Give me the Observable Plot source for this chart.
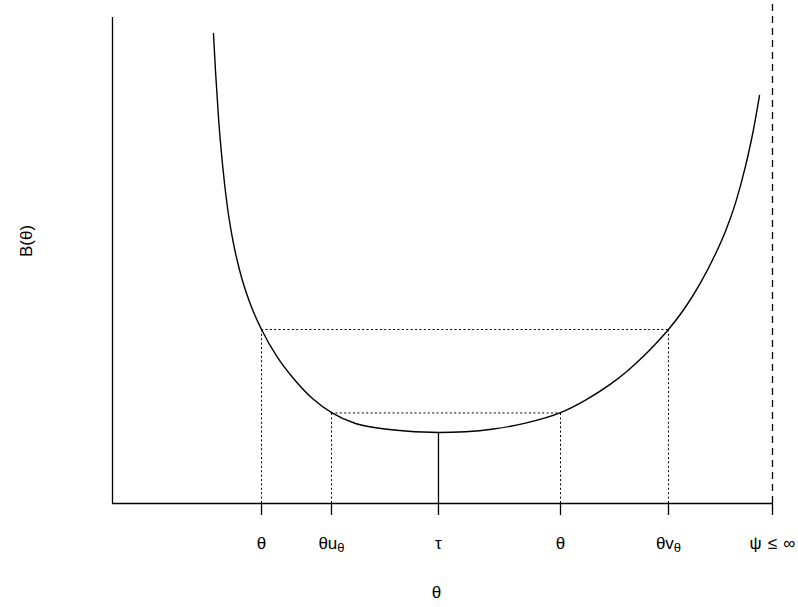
<!DOCTYPE html>
<html>
<head>
<meta charset="utf-8">
<script src="https://cdn.jsdelivr.net/npm/d3@7"></script>
<script src="https://cdn.jsdelivr.net/npm/@observablehq/plot@0.6"></script>
<style>
  html, body { margin: 0; padding: 0; background: #fff; }
  #chart svg { display: block; }
</style>
</head>
<body>
<div id="chart"></div>
<script>
// ---- data ----
const curveX = [1.530, 1.561, 1.606, 1.667, 1.742, 1.833, 1.939, 2.091, 2.258, 2.500, 2.742, 3.030, 3.333, 3.682, 4.015, 4.439, 4.939, 5.348, 5.773, 6.273, 6.788, 7.167, 7.545, 7.788, 8.045, 8.227, 8.424, 8.667, 8.909, 9.136, 9.288, 9.439, 9.591, 9.697, 9.803];
const curveY = [9.344, 8.588, 7.674, 6.740, 5.885, 5.169, 4.573, 3.956, 3.459, 2.903, 2.485, 2.087, 1.795, 1.590, 1.501, 1.441, 1.412, 1.427, 1.481, 1.602, 1.805, 2.056, 2.372, 2.620, 2.926, 3.171, 3.459, 3.877, 4.388, 4.960, 5.412, 5.972, 6.708, 7.336, 8.111];
const tickX = [2.258, 3.318, 4.939, 6.788, 8.424, 10];
const tickMain = ["θ", "θu", "τ", "θ", "θv", "ψ \u200A≤ \u200A∞"];
const tickSub = ["", "θ", "", "", "θ", ""];
const upperLevel = 3.459;
const lowerLevel = 1.80;
const minLevel = 1.412;
const xMax = 10;
const yAxisTop = 9.662;
const yMax = 10;

const curve = curveX.map((x, i) => ({x, y: curveY[i]}));
const dotted = "2,2.4";

const chart = Plot.plot({
  width: 798,
  height: 607,
  marginLeft: 112,
  marginRight: 26,
  marginTop: 0,
  marginBottom: 104,
  x: {domain: [0, xMax]},
  y: {domain: [0, yMax], axis: null},
  style: {fontFamily: "'Liberation Sans', Arial, sans-serif", background: "#fff", color: "#000"},
  marks: [
    // axes lines
    Plot.ruleX([0], {y1: 0, y2: yAxisTop, stroke: "#000", strokeWidth: 1.3}),
    Plot.ruleY([0], {x1: 0, x2: xMax, stroke: "#000", strokeWidth: 1.3}),
    // dashed bound
    Plot.ruleX([xMax], {y1: 0, y2: yMax, stroke: "#000", strokeWidth: 1.3, strokeDasharray: "7,5"}),
    // dotted guides
    Plot.ruleY([upperLevel], {x1: tickX[0], x2: tickX[4], stroke: "#000", strokeDasharray: dotted}),
    Plot.ruleY([lowerLevel], {x1: tickX[1], x2: tickX[3], stroke: "#000", strokeDasharray: dotted}),
    Plot.ruleX([tickX[0], tickX[4]], {y1: 0, y2: upperLevel, stroke: "#000", strokeDasharray: dotted}),
    Plot.ruleX([tickX[1], tickX[3]], {y1: 0, y2: lowerLevel, stroke: "#000", strokeDasharray: dotted}),
    // minimum
    Plot.ruleX([tickX[2]], {y1: 0, y2: minLevel, stroke: "#000", strokeWidth: 1.3}),
    // curve
    Plot.line(curve, {x: "x", y: "y", curve: "monotone-x", stroke: "#000", strokeWidth: 1.4}),
    // x axis ticks
    Plot.axisX({
      ticks: tickX,
      tickFormat: (d) => "T" + tickX.indexOf(d),
      tickSize: 12,
      tickPadding: 21,
      fontSize: 17,
      strokeWidth: 1.3,
      label: null
    }),
    // axis titles
    Plot.text(["θ"], {frameAnchor: "bottom", dy: 89, dx: -6, fontSize: 17, lineAnchor: "middle"}),
    Plot.text(["B(θ)"], {frameAnchor: "left", dx: -86, dy: 5, rotate: -90, fontSize: 17, lineAnchor: "middle"})
  ]
});

// replace tick labels with main text + subscripts
d3.select(chart).selectAll("text").each(function() {
  const t = this.textContent;
  const m = /^T(\d+)$/.exec(t);
  if (!m) return;
  const i = +m[1];
  const el = d3.select(this);
  el.text(null);
  el.append("tspan").text(tickMain[i]);
  if (tickSub[i]) {
    el.append("tspan").attr("font-size", 13).attr("dy", "0.25em").text(tickSub[i]);
  }
});

document.getElementById("chart").append(chart);
</script>
</body>
</html>
